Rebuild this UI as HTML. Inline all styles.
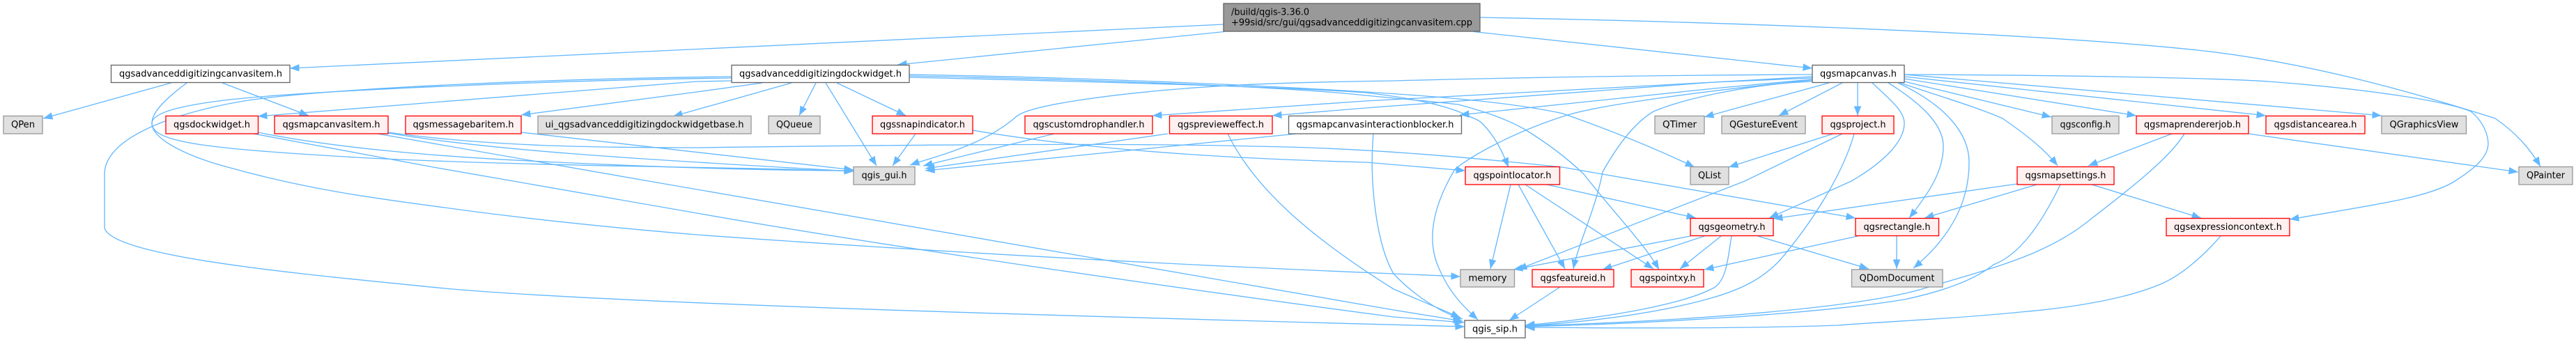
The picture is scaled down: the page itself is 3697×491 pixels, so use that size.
<!DOCTYPE html>
<html>
<head>
<meta charset="utf-8">
<style>
html,body{margin:0;padding:0;background:#fff;width:3697px;height:491px;overflow:hidden}
svg{display:block}
.e path{fill:none;stroke:#63B8FF;stroke-width:1.33;marker-end:url(#a)}
text{font-family:"DejaVu Sans","Liberation Sans",sans-serif;font-size:12.95px;fill:#000}
.n text{text-anchor:middle}
.w{fill:#fff;stroke:#666;stroke-width:1.33}
.g{fill:#E0E0E0;stroke:#999;stroke-width:1.33}
.r{fill:#FFF0F0;stroke:#f00;stroke-width:1.33}
.o{fill:#999;stroke:#666;stroke-width:1.33}
</style>
</head>
<body>
<svg width="3697" height="491" viewBox="0 0 3697 491" xmlns="http://www.w3.org/2000/svg">
<defs>
<marker id="a" markerUnits="userSpaceOnUse" markerWidth="14" markerHeight="11" refX="13.5" refY="5.25" orient="auto">
<path d="M0,0 L13.5,5.25 L0,10.5 z" fill="#63B8FF" stroke="none"/>
</marker>
</defs>
<g class="e">
<!-- root -->
<path d="M1756,35 L416,98"/>
<path d="M1757,45.5 L1288,93"/>
<path d="M2115,45.5 L2601,98"/>
<path d="M2124,25 C2400,30 2900,45 3154,72 C3300,88 3440,125 3581,170 C3610,190 3630,212 3646,239"/>
<!-- canvasitem.h -->
<path d="M245.5,119 L62,170"/>
<path d="M319,119 L443,166"/>
<path d="M268,119 C240,140 218,160 218,177 C218,200 270,225 327,240 C440,272 540,285 638,298 C760,315 880,327 1000,337 C1319,360 1638,378 2000,393 L2096,397"/>
<!-- dock left -->
<path d="M1050,110 C800,113 500,125 363,143 C280,155 150,190 150,250 L150,327 C160,370 450,395 638,414 C900,438 1700,458 2102,469"/>
<path d="M1050,112 C800,115 450,130 330,143 C270,150 218,160 218,177 C218,205 300,214 530,227 C800,240 1100,240 1225,246"/>
<path d="M1050,116 L1000,117 L370,167"/>
<path d="M1094,119 L1000,132 L748,165"/>
<path d="M1136,119 L966,167"/>
<path d="M1171,119 L1147,166"/>
<path d="M1185,119 L1258,238"/>
<path d="M1201,119 L1300,166"/>
<!-- dock right -->
<path d="M1305,107 C1600,112 1850,125 1960,132 C2040,137 2160,145 2243,163 C2320,190 2380,215 2432,240"/>
<path d="M1305,109 C1600,115 1850,125 1960,137 C2010,142 2050,145 2093,150 C2130,160 2160,170 2187,185 C2220,205 2250,228 2273,250 C2320,310 2360,350 2381,387"/>
<path d="M1305,111 C1600,118 1850,125 1960,133 C2020,140 2070,150 2100,163 C2115,170 2122,172 2127,177 C2145,195 2155,215 2165,240"/>
<!-- row B to gui etc -->
<path d="M370,190 C480,212 620,225 800,233 C950,240 1100,245 1225,245"/>
<path d="M557,191 C700,215 900,228 1225,246"/>
<path d="M748,190 L1225,244"/>
<path d="M1314,192 L1281,238"/>
<path d="M1513,192 L1325,238"/>
<path d="M1676,192 L1328,242"/>
<path d="M1861,192 L1328,245"/>
<path d="M557,190 C700,210 850,212 1000,212 C1300,208 1600,205 1800,210 C1950,212 2100,225 2242,240 L2663,313"/>
<path d="M1396,187 C1600,222 1850,230 1960,233 L2103,245"/>
<path d="M364,192 L622,240 L1000,306 C1250,350 1638,407 2000,455 L2101,463"/>
<path d="M542,192 L931,260 L2000,445 L2099,461"/>
<path d="M1762,192 C1800,270 1880,340 2000,415 L2096,456"/>
<path d="M1971,192 C1965,260 1975,350 2000,393 C2030,425 2070,450 2099,458"/>
<!-- mapcanvas left -->
<path d="M2601,107 C2350,108 2150,112 2000,116 C1850,118 1760,122 1701,127 C1600,135 1480,150 1459,167 C1410,210 1340,225 1306,237"/>
<path d="M2601,110 L2460,118 L1960,145 L1654,166"/>
<path d="M2601,112 L2460,118 L1960,155 L1826,166"/>
<path d="M2600,114 L2460,127 L2095,165"/>
<path d="M2601,115 C2450,130 2300,150 2250,165 C2170,190 2110,225 2088,243 C2060,290 2045,340 2065,385 C2080,420 2100,440 2121,459"/>
<path d="M2601,117 C2520,120 2420,140 2373,160 C2340,180 2315,220 2300,247 C2290,300 2265,350 2258,386"/>
<!-- mapcanvas down -->
<path d="M2625,119 L2446,168"/>
<path d="M2644,119 L2553,166"/>
<path d="M2666,119 L2666,166"/>
<path d="M2687,119 C2715,145 2733,160 2733,177 C2733,205 2700,235 2657,260 L2539,313"/>
<path d="M2710,119 C2760,150 2789,180 2789,210 C2789,245 2770,275 2740,313"/>
<path d="M2724,119 C2790,150 2826,190 2826,233 C2826,290 2800,340 2746,385"/>
<path d="M2727,119 C2790,140 2840,155 2874,170 C2910,195 2935,215 2953,238"/>
<path d="M2733,117 L2944,168"/>
<path d="M2733,113 L3066,166"/>
<path d="M2733,110 L3252,166"/>
<path d="M2733,107 L3418,166"/>
<path d="M2733,107 C3000,108 3200,113 3256,117 C3400,128 3510,145 3546,160 C3565,175 3571,195 3571,207 C3570,225 3555,240 3520,262 C3480,285 3400,295 3286,315"/>
<!-- project -->
<path d="M2631,192 L2481,240"/>
<path d="M2644,192 L2504,260 L2178,387"/>
<path d="M2661,192 C2645,250 2600,320 2555,373 C2530,400 2500,415 2459,427 C2380,450 2280,462 2189,468"/>
<!-- pointlocator -->
<path d="M2168,265 L2139,386"/>
<path d="M2179,265 L2246,386"/>
<path d="M2189,265 L2373,386"/>
<path d="M2220,265 L2434,313"/>
<!-- geometry -->
<path d="M2426,339 L2172,387"/>
<path d="M2446,339 L2300,387"/>
<path d="M2470,339 L2411,386"/>
<path d="M2485,339 C2480,370 2478,402 2460,413 C2420,435 2320,455 2189,467"/>
<path d="M2523,339 L2682,386"/>
<!-- rectangle -->
<path d="M2666,339 L2446,387"/>
<path d="M2722,339 L2722,386"/>
<!-- featureid -->
<path d="M2239,412 L2166,460"/>
<!-- mapsettings -->
<path d="M2895,264 L2545,314"/>
<path d="M2923,265 L2762,313"/>
<path d="M2957,265 C2930,320 2900,365 2861,380 C2830,405 2780,420 2733,430 C2600,452 2350,465 2189,469"/>
<path d="M3002,265 L3159,313"/>
<!-- expressioncontext -->
<path d="M3187,339 C3160,370 3130,395 3103,407 C3050,430 2970,442 2900,448 C2800,458 2700,462 2638,467 C2500,472 2300,471 2189,470"/>
<!-- maprendererjob -->
<path d="M3135,192 C3115,225 3065,265 3000,315 C2940,365 2860,385 2765,413 C2680,440 2450,460 2189,468"/>
<path d="M3117,192 L2997,238"/>
<path d="M3227,192 L3614,247"/>
</g>
<g class="n">
<rect class="o" x="1756" y="5" width="368" height="40"/>
<text x="1767" y="21.5" style="text-anchor:start" textLength="112" lengthAdjust="spacingAndGlyphs">/build/qgis-3.36.0</text>
<text x="1767" y="36.5" style="text-anchor:start" textLength="346" lengthAdjust="spacingAndGlyphs">+99sid/src/gui/qgsadvanceddigitizingcanvasitem.cpp</text>

<rect class="w" x="159.5" y="93.5" width="256.5" height="25"/><text x="288" y="110" textLength="234" lengthAdjust="spacingAndGlyphs">qgsadvanceddigitizingcanvasitem.h</text>
<rect class="w" x="1050" y="93.5" width="255" height="25"/><text x="1177.5" y="110" textLength="233" lengthAdjust="spacingAndGlyphs">qgsadvanceddigitizingdockwidget.h</text>
<rect class="w" x="2601" y="93.5" width="132" height="25"/><text x="2667" y="110" textLength="110" lengthAdjust="spacingAndGlyphs">qgsmapcanvas.h</text>

<rect class="g" x="5" y="166.5" width="56" height="25.5"/><text x="33" y="183" textLength="34" lengthAdjust="spacingAndGlyphs">QPen</text>
<rect class="r" x="238" y="166.5" width="132.5" height="25.5"/><text x="304" y="183" textLength="110" lengthAdjust="spacingAndGlyphs">qgsdockwidget.h</text>
<rect class="r" x="394" y="166.5" width="163" height="25.5"/><text x="475.5" y="183" textLength="140" lengthAdjust="spacingAndGlyphs">qgsmapcanvasitem.h</text>
<rect class="r" x="582" y="166.5" width="166" height="25.5"/><text x="665" y="183" textLength="145" lengthAdjust="spacingAndGlyphs">qgsmessagebaritem.h</text>
<rect class="g" x="772" y="166.5" width="306" height="25.5"/><text x="925" y="183" textLength="285" lengthAdjust="spacingAndGlyphs">ui_qgsadvanceddigitizingdockwidgetbase.h</text>
<rect class="g" x="1103" y="166.5" width="74" height="25.5"/><text x="1140" y="183" textLength="52" lengthAdjust="spacingAndGlyphs">QQueue</text>
<rect class="r" x="1252" y="166.5" width="144" height="25.5"/><text x="1324" y="183" textLength="122" lengthAdjust="spacingAndGlyphs">qgssnapindicator.h</text>
<rect class="r" x="1471" y="166.5" width="183" height="25.5"/><text x="1562.5" y="183" textLength="160" lengthAdjust="spacingAndGlyphs">qgscustomdrophandler.h</text>
<rect class="r" x="1678.5" y="166.5" width="147.5" height="25.5"/><text x="1752" y="183" textLength="124" lengthAdjust="spacingAndGlyphs">qgsprevieweffect.h</text>
<rect class="w" x="1849.5" y="166.5" width="248" height="25.5"/><text x="1973.5" y="183" textLength="226" lengthAdjust="spacingAndGlyphs">qgsmapcanvasinteractionblocker.h</text>
<rect class="g" x="2375" y="166.5" width="71" height="25.5"/><text x="2410.5" y="183" textLength="49" lengthAdjust="spacingAndGlyphs">QTimer</text>
<rect class="g" x="2471" y="166.5" width="120" height="25.5"/><text x="2531" y="183" textLength="98" lengthAdjust="spacingAndGlyphs">QGestureEvent</text>
<rect class="r" x="2615" y="166.5" width="103" height="25.5"/><text x="2666.5" y="183" textLength="80" lengthAdjust="spacingAndGlyphs">qgsproject.h</text>
<rect class="g" x="2945" y="166.5" width="96" height="25.5"/><text x="2993" y="183" textLength="73" lengthAdjust="spacingAndGlyphs">qgsconfig.h</text>
<rect class="r" x="3066" y="166.5" width="161" height="25.5"/><text x="3146.5" y="183" textLength="139" lengthAdjust="spacingAndGlyphs">qgsmaprendererjob.h</text>
<rect class="r" x="3252" y="166.5" width="142" height="25.5"/><text x="3323" y="183" textLength="119" lengthAdjust="spacingAndGlyphs">qgsdistancearea.h</text>
<rect class="g" x="3418" y="166.5" width="121.5" height="25.5"/><text x="3479" y="183" textLength="99" lengthAdjust="spacingAndGlyphs">QGraphicsView</text>

<rect class="g" x="1225" y="239.5" width="88" height="25.5"/><text x="1269" y="256" textLength="65" lengthAdjust="spacingAndGlyphs">qgis_gui.h</text>
<rect class="r" x="2103" y="239.5" width="135.5" height="25.5"/><text x="2170.5" y="256" textLength="112" lengthAdjust="spacingAndGlyphs">qgspointlocator.h</text>
<rect class="g" x="2426" y="239.5" width="55" height="25.5"/><text x="2453.5" y="256" textLength="33" lengthAdjust="spacingAndGlyphs">QList</text>
<rect class="r" x="2895" y="239.5" width="139" height="25.5"/><text x="2964.5" y="256" textLength="116" lengthAdjust="spacingAndGlyphs">qgsmapsettings.h</text>
<rect class="g" x="3615" y="239.5" width="77" height="25.5"/><text x="3653.5" y="256" textLength="55" lengthAdjust="spacingAndGlyphs">QPainter</text>

<rect class="r" x="2426" y="313.5" width="119" height="25"/><text x="2485.5" y="330" textLength="96" lengthAdjust="spacingAndGlyphs">qgsgeometry.h</text>
<rect class="r" x="2663" y="313.5" width="119.5" height="25"/><text x="2722.5" y="330" textLength="96" lengthAdjust="spacingAndGlyphs">qgsrectangle.h</text>
<rect class="r" x="3109" y="313.5" width="177" height="25"/><text x="3197.5" y="330" textLength="155" lengthAdjust="spacingAndGlyphs">qgsexpressioncontext.h</text>

<rect class="g" x="2096" y="387" width="77.5" height="25"/><text x="2135" y="403.5" textLength="55" lengthAdjust="spacingAndGlyphs">memory</text>
<rect class="r" x="2199" y="387" width="117" height="25"/><text x="2257.5" y="403.5" textLength="94" lengthAdjust="spacingAndGlyphs">qgsfeatureid.h</text>
<rect class="r" x="2341" y="387" width="104" height="25"/><text x="2393" y="403.5" textLength="81" lengthAdjust="spacingAndGlyphs">qgspointxy.h</text>
<rect class="g" x="2657.5" y="387" width="130.5" height="25"/><text x="2722.5" y="403.5" textLength="108" lengthAdjust="spacingAndGlyphs">QDomDocument</text>

<rect class="w" x="2102" y="460" width="87" height="25"/><text x="2145.5" y="476.5" textLength="65" lengthAdjust="spacingAndGlyphs">qgis_sip.h</text>
</g>
</svg>
</body>
</html>
